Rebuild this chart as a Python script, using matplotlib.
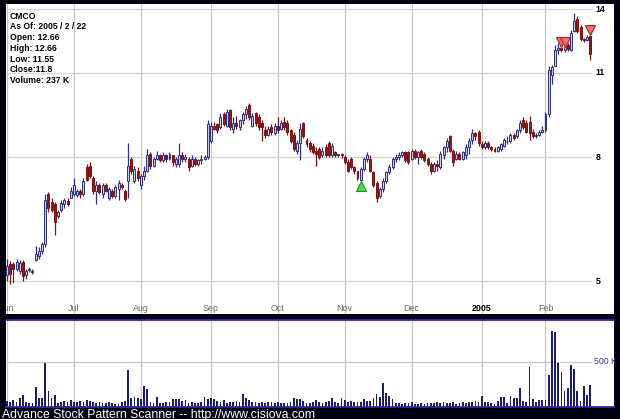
import numpy as np
import pandas as pd
import matplotlib
matplotlib.use("Agg")
import matplotlib.pyplot as plt
from matplotlib.transforms import blended_transform_factory

# ---------------- data ----------------
holidays = ["2004-06-11", "2004-07-05", "2004-09-06", "2004-11-25",
            "2004-12-24", "2005-01-17", "2005-02-21"]
dates = [d for d in pd.bdate_range("2004-06-01", "2005-02-22")
         if d.strftime("%Y-%m-%d") not in holidays]

opens = [
 5.12,5.35,5.35,5.25,5.20,5.38,5.12,5.22,5.20,5.42,5.50,5.60,5.75,6.95,6.75,6.70,6.40,6.55,6.70,6.78,6.85,
 6.95,6.92,7.05,6.95,7.70,7.75,7.40,7.05,7.20,6.95,7.20,6.85,7.05,6.90,7.10,7.20,7.05,7.30,7.95,7.30,7.60,
 7.20,7.45,7.60,8.10,7.75,7.95,8.05,7.90,8.05,7.95,8.05,7.80,7.80,8.05,7.95,7.95,7.75,7.95,7.80,7.90,7.95,8.00,
 8.50,9.00,9.05,8.95,9.40,9.00,9.55,8.90,9.10,8.95,9.20,9.40,9.75,9.00,9.45,9.30,9.10,8.85,8.70,8.95,8.75,
 9.00,8.90,9.15,9.10,8.85,8.70,8.20,8.45,9.10,8.55,8.45,8.35,8.20,8.25,8.05,8.30,8.45,8.05,8.15,8.05,8.08,
 8.00,7.85,7.95,7.70,7.60,7.35,7.65,7.95,7.95,7.55,7.25,6.90,7.10,7.30,7.55,7.70,7.95,8.00,8.05,8.15,8.15,
 7.95,8.20,8.00,8.20,8.10,7.95,7.80,7.60,7.80,7.70,8.05,8.30,8.65,8.20,7.95,8.10,7.95,8.05,8.30,8.55,8.75,8.80,
 8.40,8.30,8.45,8.30,8.25,8.20,8.25,8.35,8.50,8.50,8.70,8.65,8.85,9.20,9.10,9.15,8.80,8.65,8.70,8.80,
 8.85,9.40,10.90,11.30,12.00,12.10,12.00,12.20,12.00,12.90,13.50,13.10,12.50,12.45,12.66]
highs = [
 5.45,5.40,5.38,5.45,5.42,5.42,5.25,5.28,5.25,5.72,5.70,5.80,6.95,7.00,6.85,6.75,6.55,6.80,6.85,6.85,7.15,
 7.40,7.10,7.10,7.40,7.80,7.85,7.45,7.30,7.25,7.25,7.25,7.15,7.10,7.20,7.35,7.25,7.10,8.45,8.00,7.75,7.70,
 7.50,7.75,8.25,8.15,8.00,8.20,8.10,8.15,8.10,8.15,8.05,8.00,8.45,8.15,8.10,8.00,8.05,8.00,7.95,8.05,8.05,9.20,
 9.15,9.15,9.10,9.45,9.50,9.60,9.60,9.30,9.35,9.25,9.50,9.70,9.80,9.45,9.50,9.40,9.20,9.00,9.00,9.05,9.10,
 9.30,9.20,9.30,9.20,8.90,8.80,8.55,9.10,9.15,8.60,8.50,8.45,8.30,8.30,8.30,8.40,8.50,8.45,8.20,8.10,8.12,
 8.05,7.95,8.00,7.75,7.60,7.70,8.00,8.15,8.05,7.60,7.30,7.15,7.40,7.60,7.80,8.00,8.10,8.15,8.20,8.20,8.20,
 8.25,8.25,8.20,8.25,8.15,8.00,7.85,7.85,7.90,8.20,8.35,8.60,8.70,8.25,8.20,8.15,8.20,8.40,8.60,8.90,8.80,8.85,
 8.50,8.50,8.50,8.35,8.30,8.35,8.45,8.60,8.65,8.75,8.75,8.90,9.20,9.30,9.20,9.35,8.90,8.75,8.85,9.00,
 9.50,11.30,11.35,12.20,12.30,12.30,12.25,12.30,12.95,13.80,13.65,13.20,12.55,12.70,12.66]
lows = [
 5.00,4.95,4.98,5.20,5.15,5.00,5.05,5.18,5.15,5.40,5.45,5.55,5.70,6.50,6.50,5.95,6.35,6.50,6.60,6.65,6.85,
 6.90,6.88,6.85,6.90,7.30,7.40,6.95,6.70,6.95,6.85,7.00,6.80,6.85,6.85,6.80,7.10,6.78,6.85,7.50,7.25,7.30,
 7.10,7.35,7.55,7.65,7.70,7.90,7.85,7.85,7.85,7.90,7.75,7.70,7.70,7.85,7.85,7.60,7.70,7.75,7.75,7.80,7.90,7.95,
 8.45,8.85,8.75,8.90,9.00,8.95,8.85,8.75,8.90,8.85,9.05,9.25,9.20,8.95,9.00,8.85,8.50,8.60,8.65,8.70,8.70,
 8.75,8.85,8.85,8.70,8.45,8.20,8.10,7.90,8.60,8.30,8.15,8.10,7.75,7.95,8.00,8.00,8.00,8.00,8.00,8.00,7.98,
 7.80,7.55,7.65,7.50,7.35,7.30,7.60,7.85,7.55,7.15,6.75,6.85,7.00,7.25,7.50,7.65,7.85,7.90,8.00,7.85,7.80,
 7.90,7.95,7.80,7.95,7.85,7.75,7.50,7.55,7.60,7.65,7.95,8.15,8.15,7.75,7.90,7.90,7.90,7.95,8.10,8.40,8.55,8.35,
 8.25,8.25,8.25,8.20,8.15,8.15,8.20,8.30,8.40,8.45,8.55,8.60,8.75,8.90,8.75,8.55,8.60,8.60,8.65,8.75,
 8.80,9.30,10.55,11.30,11.80,11.90,11.90,11.95,11.95,12.85,12.80,12.40,12.35,12.40,11.55]
closes = [
 5.30,5.15,5.25,5.38,5.36,5.10,5.20,5.25,5.18,5.55,5.60,5.75,6.80,6.60,6.55,6.25,6.50,6.72,6.80,6.70,7.05,
 7.20,7.05,6.95,7.30,7.35,7.45,7.05,7.20,7.00,7.20,7.05,7.10,6.90,7.15,7.25,7.15,6.82,7.75,7.60,7.65,7.40,
 7.45,7.60,8.05,7.75,7.95,8.05,7.90,8.05,7.95,8.10,7.85,7.95,8.05,7.95,8.00,7.70,7.95,7.80,7.90,7.95,8.00,9.05,
 9.00,8.90,8.85,9.30,9.05,9.50,8.95,9.10,9.00,9.20,9.40,9.60,9.30,9.35,9.10,8.95,8.95,8.70,8.90,8.80,9.00,
 8.85,9.10,8.95,8.80,8.50,8.25,8.45,8.90,8.65,8.40,8.25,8.15,8.10,8.00,8.20,8.05,8.05,8.35,8.05,8.08,8.05,
 7.85,7.60,7.70,7.60,7.40,7.65,7.95,8.05,7.60,7.20,6.85,7.10,7.30,7.55,7.70,7.95,8.00,8.05,8.15,7.90,7.85,
 8.20,8.00,8.15,8.00,7.90,7.80,7.60,7.80,7.75,8.10,8.30,8.50,8.20,7.85,8.10,7.95,8.15,8.30,8.50,8.75,8.65,8.45,
 8.30,8.45,8.30,8.25,8.20,8.30,8.40,8.55,8.50,8.70,8.60,8.85,9.10,8.95,8.80,8.75,8.65,8.70,8.80,8.85,
 9.40,11.10,11.25,12.00,12.10,12.00,12.15,12.05,12.80,13.40,12.90,12.50,12.45,12.60,11.80]
volume_k = [
 60,55,70,50,90,130,45,40,35,218,94,90,489,177,94,130,40,50,60,45,70,
 55,45,60,50,70,60,45,40,50,35,40,45,35,30,30,50,60,406,90,110,100,
 80,225,195,50,40,109,40,35,45,50,80,85,80,60,75,40,50,35,40,45,110,85,
 90,85,60,50,70,40,55,45,60,50,139,90,70,50,45,40,45,40,50,45,40,
 45,40,35,40,50,100,85,80,60,40,35,50,70,45,40,55,60,90,50,40,100,
 70,55,60,45,50,55,86,60,65,90,139,105,267,150,120,83,40,35,30,38,35,
 53,30,25,35,30,40,35,40,45,35,55,40,35,45,30,40,45,35,50,45,60,50,
 117,50,45,40,30,60,105,105,40,120,98,90,210,64,50,436,86,50,70,75,
 75,350,838,830,481,383,177,210,466,414,177,64,233,132,237]

month_labels = ["Jun", "Jul", "Aug", "Sep", "Oct", "Nov", "Dec", "2005", "Feb"]
price_ticks = [5, 8, 11, 14]
volume_tick_k = 500
signal_up = [(111, 7.17)]
signal_down = [(174, 12.34), (175, 12.34), (183, 12.93)]
info_lines = ["CMCO", "As Of: 2005 / 2 / 22", "Open: 12.66", "High: 12.66",
              "Low: 11.55", "Close:11.8", "Volume: 237 K"]
footer = "Advance Stock Pattern Scanner -- http://www.cisiova.com"

# ---------------- figure ----------------
W, H = 620, 419
fig = plt.figure(figsize=(W / 100, H / 100), dpi=100, facecolor="#00000e")

def frac(x0, y0, x1, y1):
    return [x0 / W, 1 - y1 / H, (x1 - x0) / W, (y1 - y0) / H]

ax = fig.add_axes(frac(6, 4, 614, 313.5))
axv = fig.add_axes(frac(6, 319.5, 614, 406.5))

n = len(closes)
idx = np.arange(n)
month_start = [i for i in range(n) if i == 0 or dates[i].month != dates[i - 1].month]
xlim = (-0.31, 190.5)
grid_end = n - 0.5

for a in (ax, axv):
    a.set_facecolor("white")
    a.set_xlim(*xlim)
    a.set_xticks([])
    a.set_yticks([])
    for s in a.spines.values():
        s.set_visible(False)
    for m in month_start:
        a.axvline(m, color="#c8c8c8", lw=0.9, zorder=0)

# price panel
ax.set_yscale("log")
ax.set_ylim(4.43, 14.27)
ax.minorticks_off()
ax.set_yticks([])
ax.hlines(price_ticks, xlim[0], grid_end, color="#d8d8d8", lw=1.0, zorder=0)
tr = blended_transform_factory(ax.transData, ax.transData)
for p in price_ticks:
    ax.text(n + 0.7, p, str(p), fontsize=6.3, fontweight="bold", color="black",
            ha="left", va="center", family="Liberation Sans")

o = np.array(opens); c = np.array(closes); h = np.array(highs); l = np.array(lows)
up = c >= o
up_edge, up_face = "#2f2f7c", "#c9c9e6"
dn_edge, dn_face = "#7c1212", "#8a1c1c"
wick_cols = np.where(up, up_edge, dn_edge)
ax.vlines(idx, l, h, colors=wick_cols, lw=0.9, zorder=2)
bot = np.minimum(o, c)
top = np.maximum(o, c)
ax.bar(idx[up], top[up] - bot[up], bottom=bot[up], width=0.62,
       color=up_face, edgecolor=up_edge, linewidth=0.7, zorder=3)
ax.bar(idx[~up], top[~up] - bot[~up], bottom=bot[~up], width=0.62,
       color=dn_face, edgecolor=dn_edge, linewidth=0.7, zorder=3)

for i, p in signal_up:
    ax.plot(i, p, marker="^", ms=7.5, mfc="#4fd84f", mec="#1f8f1f", mew=0.8, zorder=5)
for i, p in signal_down:
    ax.plot(i, p, marker="v", ms=7.5, mfc="#f07070", mec="#b02020", mew=0.8, zorder=5)

tlab = blended_transform_factory(ax.transData, ax.transAxes)
for m, lab in zip(month_start, month_labels):
    bold = lab == "2005"
    ax.text(m, 0.016, lab, transform=tlab, ha="center", va="center",
            fontsize=6.4, color="black" if bold else "#666666",
            fontweight="bold" if bold else "normal", family="Liberation Sans",
            clip_on=True)

ax.text(4 / 608, 1 - 7.5 / 309.5, "\n".join(info_lines), transform=ax.transAxes,
        ha="left", va="top", fontsize=6.2, fontweight="bold", color="black",
        linespacing=1.25, family="Liberation Sans")

# volume panel
axv.set_ylim(0, 970)
axv.hlines([volume_tick_k], xlim[0], grid_end, color="#c8c8c8", lw=0.9, zorder=0)
axv.text(n + 0.3, volume_tick_k, "500 K", fontsize=6.3, color="#3a3ab0",
         ha="left", va="center", family="Liberation Sans")
axv.bar(idx, volume_k, width=0.55, color="#1c1c6e", zorder=2)
for s in ("top", "bottom"):
    axv.spines[s].set_visible(True)
    axv.spines[s].set_color("#2c2ca8")
    axv.spines[s].set_linewidth(1.3)

fig.text(2 / W, 1 - 417.5 / H, footer, color="white", fontsize=8.8,
         ha="left", va="baseline", family="Liberation Sans")

fig.savefig("out.png", dpi=100, facecolor=fig.get_facecolor())
